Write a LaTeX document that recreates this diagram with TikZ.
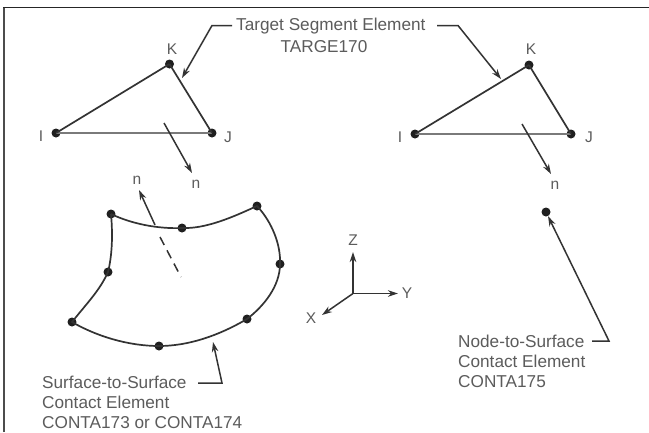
\documentclass[tikz,border=0pt]{standalone}
\usepackage{fontspec}
\setmainfont{Liberation Sans}
\usetikzlibrary{arrows.meta}
\definecolor{ink}{gray}{0.2}
\definecolor{txt}{gray}{0.36}
\tikzset{
 x=1pt,y=-1pt,
 edge/.style={draw=ink,line width=1.7pt},
 base/.style={draw=ink!65,line width=2.2pt},
 leadline/.style={draw=ink,line width=1.5pt},
 lead/.style={leadline,-{Stealth[length=10pt,width=6.5pt]}},
 dot/.style={circle,fill=black!88,inner sep=0pt,minimum size=9pt},
 lab/.style={font=\fontsize{15.5}{18}\selectfont,text=txt,inner sep=0pt},
 multi/.style={lab,align=left,anchor=north west,font=\fontsize{17.2}{20.3}\selectfont},
}
\begin{document}
\begin{tikzpicture}
\useasboundingbox (0,0) rectangle (649,432);
\fill[white] (0,0) rectangle (649,432);
\draw[draw=black!70,line width=1.8pt] (4,432) -- (4,7.5);
\draw[draw=black!85,line width=1.1pt] (3.1,7.5) -- (649,7.5);
% left triangle
\node[dot] (i1) at (56,133) {};
\node[dot] (j1) at (212,133) {};
\node[dot] (k1) at (169.5,64) {};
\draw[base] (i1.center) -- (j1.center);
\draw[edge] (i1.center) -- (k1.center);
\draw[edge] (k1.center) -- (j1.center);
\node[lab] at (41,136) {I};
\node[lab] at (228,137) {J};
\node[lab] at (172,49) {K};
\coordinate (n1a) at (164,123);
\coordinate (n1b) at (192,173);
\draw[lead] (n1a) -- (n1b);
\node[lab] (n1) at (196,184) {n};
% right triangle
\node[dot] (i2) at (415,134) {};
\node[dot] (j2) at (571,134) {};
\node[dot] (k2) at (529,65) {};
\draw[base] (i2.center) -- (j2.center);
\draw[edge] (i2.center) -- (k2.center);
\draw[edge] (k2.center) -- (j2.center);
\node[lab] at (400,137) {I};
\node[lab] at (589,137) {J};
\node[lab] at (531,49) {K};
\coordinate (n2a) at (522,124);
\coordinate (n2b) at (551,174);
\draw[lead] (n2a) -- (n2b);
\node[lab] (n2) at (555,185) {n};
% title
\node[multi,anchor=west] (t1) at (236,26) {Target Segment Element};
\node[multi,anchor=center] (t2) at (324,46.5) {TARGE170};
\coordinate (tl0) at (232,25.5);
\coordinate (tr0) at (437,25.5);
\coordinate (tl) at (212,25.5);
\coordinate (tr) at (458,25.5);
\coordinate (tla) at (182,78);
\coordinate (tra) at (501,79);
\draw[lead] (tl0) -- (tl) -- (tla);
\draw[lead] (tr0) -- (tr) -- (tra);
% surface
\node[dot] (a) at (111,214) {};
\node[dot] (b) at (182,228) {};
\node[dot] (c) at (257,206) {};
\node[dot] (d) at (280,264) {};
\node[dot] (e) at (247,319) {};
\node[dot] (f) at (159,346) {};
\node[dot] (g) at (72,322) {};
\node[dot] (h) at (108,272) {};
\draw[edge] (a.center) .. controls (132,224) and (158,229) .. (b.center)
  .. controls (206,229) and (233,217) .. (c.center)
  .. controls (272,222) and (281,245) .. (d.center)
  .. controls (280,286) and (264,306) .. (e.center)
  .. controls (218,336) and (188,346) .. (f.center)
  .. controls (128,346) and (96,336) .. (g.center)
  .. controls (88,302) and (100,290) .. (h.center)
  .. controls (112,256) and (113,236) .. (a.center);
\coordinate (m1) at (155,225);
\coordinate (m2) at (139,190);
\coordinate (m3) at (181,277);
\coordinate (m4) at (160,237);
\draw[lead] (m1) -- (m2);
\draw[leadline,dash pattern=on 9pt off 6pt] (m4) -- (m3);
\node[lab] (n3) at (137,180) {n};
% axes
\coordinate (o) at (353,293.5);
\coordinate (zt) at (353,252);
\coordinate (yt) at (398,293.5);
\coordinate (xt) at (322,315);
\draw[lead] (o) -- (zt);
\draw[lead] (o) -- (yt);
\draw[lead] (o) -- (xt);
\node[lab] at (353,240) {Z};
\node[lab] at (407,293) {Y};
\node[lab] at (311,318) {X};
% surface label
\node[multi] (s) at (42,375.5) {Surface-to-Surface\\Contact Element\\CONTA173 or CONTA174};
\coordinate (sa) at (222,383);
\coordinate (sb) at (213,342);
\coordinate (s0) at (198,383);
\draw[lead] (s0) -- (sa) -- (sb);
% node label
\node[multi] (nl) at (458,334.5) {Node-to-Surface\\Contact Element\\CONTA175};
\node[dot] (p) at (546,212) {};
\coordinate (pa) at (609,341);
\coordinate (p0) at (592,341);
\draw[lead] (p0) -- (pa) -- (p);
\end{tikzpicture}
\end{document}
